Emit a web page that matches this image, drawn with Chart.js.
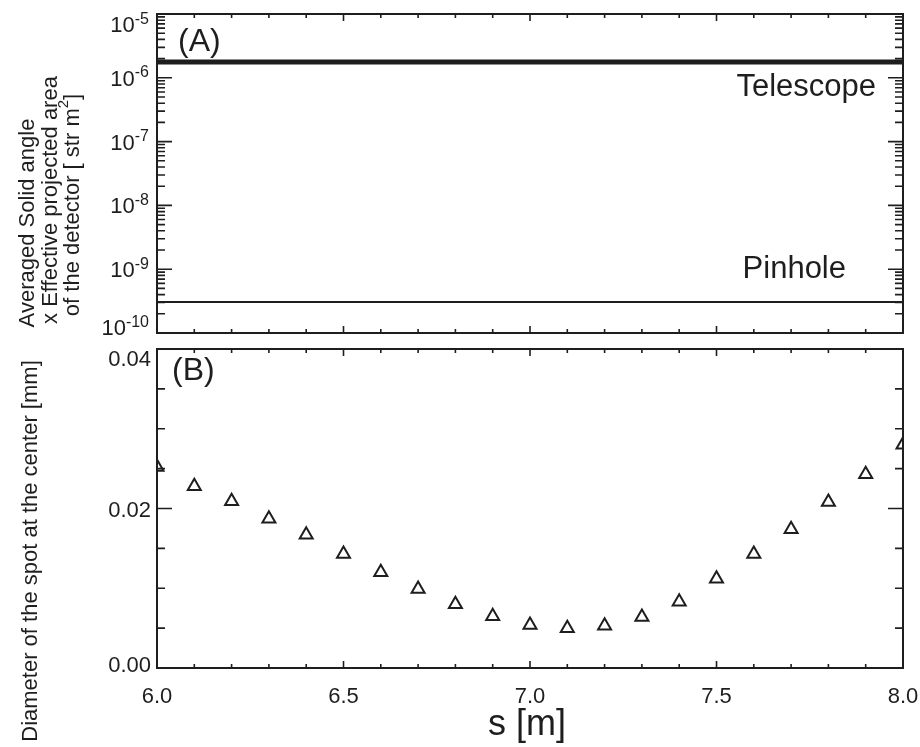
<!DOCTYPE html>
<html lang="en">
<head>
<meta charset="UTF-8">
<title>Solid angle and spot diameter vs s</title>
<script src="https://cdn.jsdelivr.net/npm/chart.js@4.4.1/dist/chart.umd.min.js"></script>
<style>
  html, body { margin: 0; padding: 0; background: #fff; }
  #wrap { position: relative; width: 920px; height: 747px; }
  canvas { position: absolute; left: 0; }
  #solidChart { top: 0; }
  #spotChart { top: 335px; }
</style>
</head>
<body>
<div id="wrap">
  <canvas id="solidChart" width="920" height="335"></canvas>
  <canvas id="spotChart" width="920" height="412"></canvas>
</div>
<script>
// positions along the beam, s [m]
const sValues = [6.0, 6.1, 6.2, 6.3, 6.4, 6.5, 6.6, 6.7, 6.8, 6.9, 7.0,
                 7.1, 7.2, 7.3, 7.4, 7.5, 7.6, 7.7, 7.8, 7.9, 8.0];
// (B) diameter of the spot at the center [mm]
const spotDiameter = [0.0252, 0.0228, 0.0209, 0.0187, 0.0167, 0.0143, 0.0120,
                      0.0099, 0.0080, 0.0065, 0.0054, 0.0050, 0.0053, 0.0064,
                      0.0083, 0.0112, 0.0143, 0.0174, 0.0208, 0.0243, 0.0280];
// (A) averaged solid angle x effective area [str m^2], flat over s
const lineS = [6.0, 8.0];
const telescopeValues = [1.77e-6, 1.77e-6];
const pinholeValues = [3.06e-10, 3.06e-10];

const logDecades = [-10, -9, -8, -7, -6, -5];
const sTickLabels = ['6.0', '6.5', '7.0', '7.5', '8.0'];
const spotTickLabels = ['0.00', '0.02', '0.04'];
const spotMinorStep = [0.005, 0.010, 0.015, 0.025, 0.030, 0.035];

const INK = '#1e1e1e';
const FONT = "'Liberation Sans', Arial, Helvetica, sans-serif";
const font = size => size + 'px ' + FONT;

// text made of pieces, some of them smaller and raised (exponents)
function drawRun(ctx, pieces, x, y, align) {
  let w = 0;
  pieces.forEach(p => { ctx.font = font(p.size); p.w = ctx.measureText(p.text).width; w += p.w; });
  let cx = align === 'right' ? x - w : align === 'center' ? x - w / 2 : x;
  ctx.textAlign = 'left';
  pieces.forEach(p => {
    ctx.font = font(p.size);
    ctx.fillText(p.text, cx, y - (p.rise || 0));
    cx += p.w;
  });
}

function drawVertical(ctx, pieces, cx, cy) {
  ctx.save();
  ctx.translate(cx, cy);
  ctx.rotate(-Math.PI / 2);
  ctx.textBaseline = 'middle';
  drawRun(ctx, pieces, 0, 0, 'center');
  ctx.restore();
}

const clamp = (v, lo, hi) => Math.min(hi, Math.max(lo, v));

// box around the plot with inward ticks on all four sides, then the texts
function makeFrame(cfg) {
  return {
    id: 'frame',
    afterDatasetsDraw(chart) {
      const { ctx, chartArea: a } = chart;
      const xs = chart.scales.x, ys = chart.scales.y;
      ctx.save();
      ctx.strokeStyle = INK;
      ctx.fillStyle = INK;
      ctx.lineWidth = 1.6;
      ctx.beginPath();
      cfg.xTicks.forEach(([v, major]) => {
        const px = xs.getPixelForValue(v);
        const len = major ? 7 : 4;
        ctx.moveTo(px, a.top); ctx.lineTo(px, a.top + len);
        ctx.moveTo(px, a.bottom); ctx.lineTo(px, a.bottom - len);
      });
      cfg.yTicks.forEach(([v, major]) => {
        const py = ys.getPixelForValue(v);
        const len = major ? 15 : 8;
        ctx.moveTo(a.left, py); ctx.lineTo(a.left + len, py);
        ctx.moveTo(a.right, py); ctx.lineTo(a.right - len, py);
      });
      ctx.stroke();
      ctx.lineWidth = 2;
      ctx.strokeRect(a.left, a.top, a.right - a.left, a.bottom - a.top);
      ctx.textBaseline = 'alphabetic';
      cfg.texts(ctx, a, xs, ys);
      ctx.restore();
    }
  };
}

const baseOptions = (padding, yScale) => ({
  responsive: false,
  animation: false,
  events: [],
  layout: { padding },
  plugins: { legend: { display: false }, tooltip: { enabled: false } },
  scales: {
    x: { type: 'linear', min: 6, max: 8, display: false },
    y: yScale
  }
});

const sMajor = sTickLabels.map(Number);
const xTicks = sValues.map(v => [v, sMajor.some(m => Math.abs(m - v) < 1e-6)]);

// ---- (A) ----
const logTicks = [];
logDecades.forEach((d, i) => {
  logTicks.push([Math.pow(10, d), true]);
  if (i < logDecades.length - 1) {
    for (let m = 2; m <= 9; m++) logTicks.push([m * Math.pow(10, d), false]);
  }
});

new Chart(document.getElementById('solidChart'), {
  type: 'scatter',
  data: {
    datasets: [
      { label: 'Telescope', data: lineS.map((s, i) => ({ x: s, y: telescopeValues[i] })),
        showLine: true, borderColor: INK, borderWidth: 5, pointRadius: 0 },
      { label: 'Pinhole', data: lineS.map((s, i) => ({ x: s, y: pinholeValues[i] })),
        showLine: true, borderColor: INK, borderWidth: 2, pointRadius: 0 }
    ]
  },
  options: baseOptions({ left: 157, right: 17, top: 14, bottom: 2 },
    { type: 'logarithmic', min: 1e-10, max: 1e-5, display: false }),
  plugins: [makeFrame({
    xTicks,
    yTicks: logTicks,
    texts(ctx, a, xs, ys) {
      logDecades.forEach(d => {
        const py = clamp(ys.getPixelForValue(Math.pow(10, d)), a.top + 10, a.bottom - 6);
        drawRun(ctx, [{ text: '10', size: 22 }, { text: String(d), size: 16, rise: 8.5 }],
                149, py + 8, 'right');
      });
      ctx.font = font(32);
      ctx.fillText('(A)', a.left + 21, a.top + 37);
      ctx.font = font(31);
      ctx.textAlign = 'right';
      ctx.fillText('Telescope', a.right - 27, ys.getPixelForValue(telescopeValues[1]) + 34);
      ctx.fillText('Pinhole', a.right - 57, ys.getPixelForValue(pinholeValues[1]) - 24);
      drawVertical(ctx, [{ text: 'Averaged Solid angle', size: 22 }], 28, 223);
      drawVertical(ctx, [{ text: 'x Effective projected area', size: 22 }], 51, 200);
      drawVertical(ctx, [{ text: 'of the detector [ str m', size: 22 },
                         { text: '2', size: 15, rise: 9 },
                         { text: ']', size: 22 }], 73, 205);
    }
  })]
});

// ---- (B) ----
const spotTicks = spotTickLabels.map(t => [Number(t), true])
  .concat(spotMinorStep.map(v => [v, false]));

new Chart(document.getElementById('spotChart'), {
  type: 'scatter',
  data: {
    datasets: [{
      label: 'Spot diameter',
      data: sValues.map((s, i) => ({ x: s, y: spotDiameter[i] })),
      pointStyle: 'triangle',
      pointRadius: 7.5,
      pointBorderWidth: 2,
      borderColor: INK,
      backgroundColor: 'rgba(0,0,0,0)',
      clip: 0
    }]
  },
  options: baseOptions({ left: 157, right: 17, top: 14, bottom: 79 },
    { type: 'linear', min: 0, max: 0.04, display: false }),
  plugins: [makeFrame({
    xTicks,
    yTicks: spotTicks,
    texts(ctx, a, xs, ys) {
      ctx.font = font(22);
      ctx.textAlign = 'right';
      spotTickLabels.forEach(t => {
        const py = clamp(ys.getPixelForValue(Number(t)), a.top + 9, a.bottom - 4);
        ctx.fillText(t, 151, py + 8);
      });
      ctx.textAlign = 'center';
      sTickLabels.forEach(t => {
        ctx.fillText(t, xs.getPixelForValue(Number(t)), a.bottom + 35);
      });
      ctx.font = font(36);
      ctx.fillText('s [m]', (a.left + a.right) / 2 - 3, a.bottom + 67);
      ctx.textAlign = 'left';
      ctx.font = font(32);
      ctx.fillText('(B)', a.left + 15, a.top + 31);
      drawVertical(ctx, [{ text: 'Diameter of the spot at the center [mm]', size: 22 }], 31, 216);
    }
  })]
});
</script>
</body>
</html>
